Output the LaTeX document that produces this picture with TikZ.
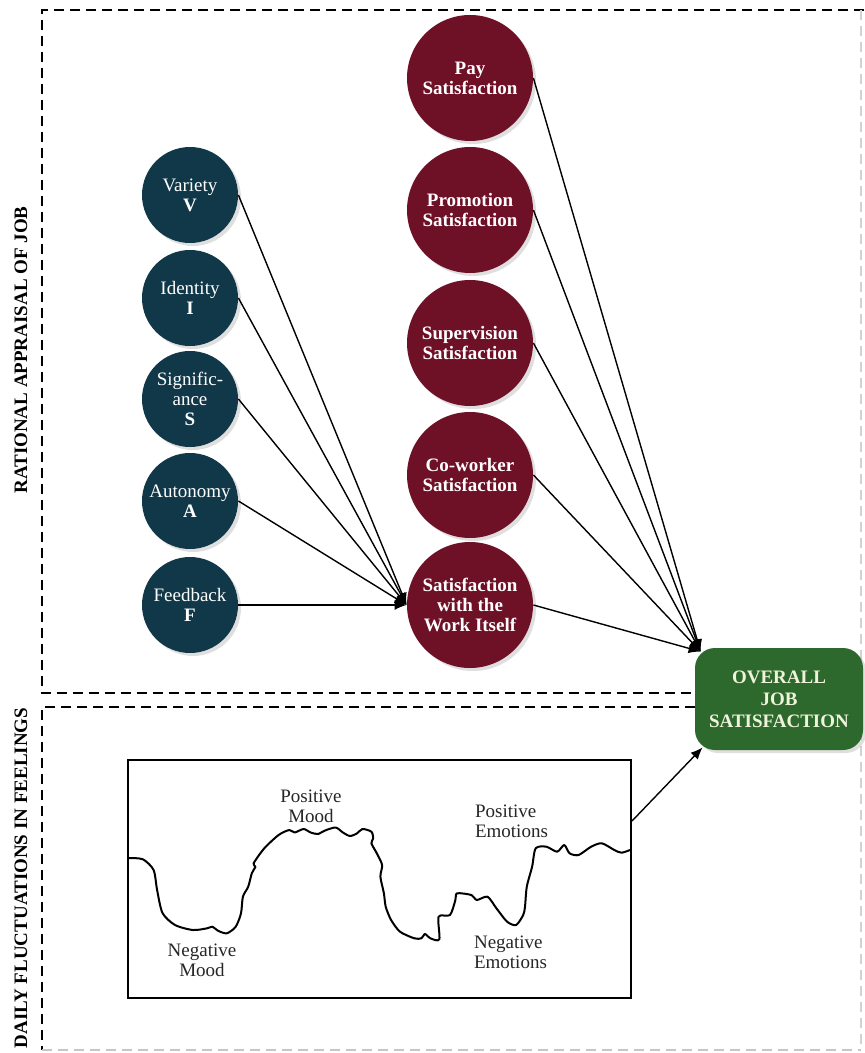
\documentclass[tikz,border=0pt]{standalone}
\usepackage{fontspec}
\setmainfont{Liberation Serif}
\usetikzlibrary{arrows.meta,shadows,calc}

\definecolor{jobteal}{HTML}{103848}
\definecolor{jobmaroon}{HTML}{6E1026}
\definecolor{jobgreen}{HTML}{2D692D}
\definecolor{jobcream}{HTML}{F0F3DC}

\begin{document}
\begin{tikzpicture}[x=0.5pt,y=-0.5pt,
  core/.style={circle, fill=jobteal, text=white, minimum size=48pt, inner sep=0pt,
    align=center, font=\fontsize{9.5}{10}\selectfont,
    drop shadow={opacity=0.25, shadow xshift=1.5pt, shadow yshift=-1.5pt}},
  facet/.style={circle, fill=jobmaroon, text=white, minimum size=63pt, inner sep=0pt,
    align=center, font=\fontsize{9.5}{10}\selectfont\bfseries,
    drop shadow={opacity=0.25, shadow xshift=1.5pt, shadow yshift=-1.5pt}},
  overallbox/.style={rectangle, rounded corners=10pt, fill=jobgreen, text=jobcream,
    minimum width=84pt, minimum height=51pt, inner sep=0pt, align=center,
    font=\fontsize{9.5}{11}\selectfont\bfseries,
    drop shadow={opacity=0.25, shadow xshift=1.5pt, shadow yshift=-1.5pt}},
  link/.style={-{Latex[length=6pt,width=5pt]}, line width=0.7pt},
  region/.style={line width=1pt, dash pattern=on 5pt off 3pt},
  sidelabel/.style={rotate=90, font=\fontsize{9.5}{10}\selectfont\bfseries},
  mood/.style={align=center, text=black!85, font=\fontsize{9.5}{10}\selectfont}]

\useasboundingbox (0,0) rectangle (864,1053);

% Regions
\draw[region] (864,10) -- (42,10) -- (42,693) -- (695,693); % rational appraisal
\draw[region] (695,707) -- (42,707) -- (42,1050); % daily fluctuations
\draw[region, gray!45] (42,1050) -- (861,1050);
\draw[region, gray!35] (861,10) -- (861,1050);
\node[sidelabel] (ratlabel) at (21,350) {RATIONAL APPRAISAL OF JOB};
\node[sidelabel] (dailylabel) at (21,878) {DAILY FLUCTUATIONS IN FEELINGS};

% Job characteristics
\node[core] (var) at (190,195) {Variety\\\textbf{V}};
\node[core] (ide) at (190,298) {Identity\\\textbf{I}};
\node[core] (sig) at (190,399) {Signific-\\ance\\\textbf{S}};
\node[core] (aut) at (190,501) {Autonomy\\\textbf{A}};
\node[core] (fee) at (190,605) {Feedback\\\textbf{F}};

% Satisfaction facets
\node[facet] (pay) at (470,78) {Pay\\Satisfaction};
\node[facet] (pro) at (470,210) {Promotion\\Satisfaction};
\node[facet] (sup) at (470,343) {Supervision\\Satisfaction};
\node[facet] (cow) at (470,475) {Co-worker\\Satisfaction};
\node[facet] (work) at (470,605) {Satisfaction\\with the\\Work Itself};

% Overall job satisfaction
\node[overallbox] (overall) at (779,699) {OVERALL\\JOB\\SATISFACTION};
\coordinate (hub) at ($(overall.north west)+(3pt,-2pt)$);
\coordinate (hublow) at ($(overall.south west)+(4pt,1.5pt)$);

% Characteristics into work itself
\draw[link] (var.east) -- (work.west);
\draw[link] (ide.east) -- (work.west);
\draw[link] (sig.east) -- (work.west);
\draw[link] (aut.east) -- (work.west);
\draw[link] (fee.east) -- (work.west);

% Facets into overall
\draw[link] (pay.east) -- (hub);
\draw[link] (pro.east) -- (hub);
\draw[link] (sup.east) -- (hub);
\draw[link] (cow.east) -- (hub);
\draw[link] (work.east) -- (hub);

% Daily fluctuations box
\node[draw, line width=1pt, minimum width=251.5pt, minimum height=119pt, inner sep=0pt] (moodbox) at (379.5,879) {};
\coordinate (moodout) at ($(moodbox.north east)+(0,-31pt)$);
\draw[link] (moodout) -- (hublow);

% Mood curve
\draw[line width=1pt, line join=round] plot[smooth, tension=0.45] coordinates {
  (129,858) (142.9,859.3) (153.6,870) (157.1,890) (162.5,913) (175,925) (192.9,930)
  (207.1,928.3) (212.5,926.7) (217.9,930.7) (226.8,933.3) (235.7,926.7) (241,913.3)
  (242.9,896.7) (248.2,886.7) (251.8,873.3) (255.4,866.7) (253.6,863.3) (264.3,848.3)
  (278.6,835) (289.3,830) (294.6,832.5) (303.6,829) (310.7,832.5) (317.9,834)
  (325,830.5) (335.7,827.5) (342.9,832.5) (350,836) (357.1,833.3) (362.5,829)
  (371.4,831.7) (373.2,838.3) (371.4,843.3) (376.8,853.3) (382.1,865) (380.4,876.7)
  (383.9,893.3) (385.7,906.7) (391.1,920) (400,931.7) (414.3,938.3) (421.4,938.3)
  (425,934) (430.4,938.3) (439.3,939.3) (438.6,916.7) (450,915) (455.4,900)
  (457.1,893.3) (471.4,895) (476.8,900) (487.5,896.7) (496.4,908.3) (507.1,921.7)
  (516.1,925) (523.2,915) (525,906.7) (526.8,886.7) (532.1,866.7) (535.7,848.3)
  (546.4,846.7) (557.1,851.7) (564.3,845) (569.6,853.3) (578.6,855) (591.1,846.7)
  (601.8,843.3) (614.3,850) (621.4,852.7) (630,850)};

% Mood labels
\node[mood] (posmood) at (311,806) {Positive\\Mood};
\node[mood] (negmood) at (202,960) {Negative\\Mood};
\node[mood, align=left, anchor=west] (posemo) at (468,821) {Positive\\Emotions};
\node[mood, align=left, anchor=west] (negemo) at (467,952) {Negative\\Emotions};

\end{tikzpicture}
\end{document}
